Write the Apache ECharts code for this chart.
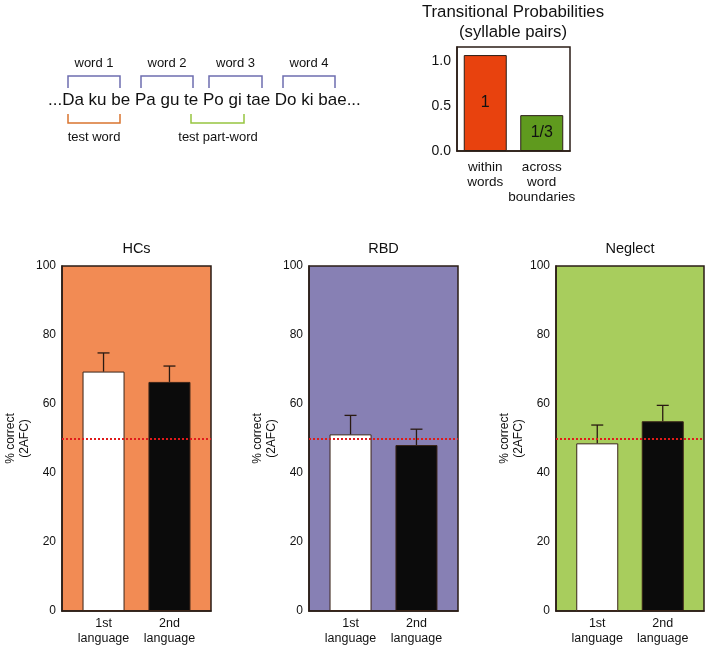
<!DOCTYPE html>
<html>
<head>
<meta charset="utf-8">
<script src="https://cdn.jsdelivr.net/npm/echarts@6/dist/echarts.min.js"></script>
<style>html,body{margin:0;padding:0;background:#fff}#c{width:708px;height:647px}</style>
</head>
<body>
<div id="c"></div>
<script>
// ---- Transitional probabilities inset ----
const tpCategories = ['within\nwords', 'across\nword\nboundaries'];
const tpValues = [1.07, 0.40];
const tpLabels = ['1', '1/3'];
const tpTicks = [0, 0.5, 1.0];

// ---- Main panels ----
const panelNames = ['HCs', 'RBD', 'Neglect'];
const langPositions = [1, 2];
const langLabels = ['1st\nlanguage', '2nd\nlanguage'];
const hcsMeans = [69.4, 66.4];
const hcsUpper = [74.8, 71.0];
const rbdMeans = [51.2, 48.1];
const rbdUpper = [56.7, 52.7];
const negMeans = [48.6, 55.0];
const negUpper = [53.9, 59.6];
const chanceLevel = 50;
const yTicksMax = 100;

const FONT = '"Liberation Sans", Arial, Helvetica, sans-serif';
const panelBg = ['#F28B54', '#8780B4', '#A8CD5D'];
const barColors = ['#FFFFFF', '#0B0B0B'];
const tpColors = ['#E8420E', '#5F9A1E'];
const frame = '#2a1d16';

const panelMeans = [hcsMeans, rbdMeans, negMeans];
const panelUpper = [hcsUpper, rbdUpper, negUpper];
const panelGrids = [
  {left: 62, top: 266, width: 149, height: 345},
  {left: 309, top: 266, width: 149, height: 345},
  {left: 556, top: 266, width: 148, height: 345}
];

const chart = echarts.init(document.getElementById('c'), null, {renderer: 'canvas'});

const grids = [{left: 457, top: 47, width: 113, height: 104, show: true, backgroundColor: '#fff', borderColor: frame, borderWidth: 1.5}];
const xAxes = [{
  gridIndex: 0, type: 'category', data: tpCategories,
  axisLine: {show: true, lineStyle: {color: frame, width: 1.5}},
  axisTick: {show: false},
  axisLabel: {fontFamily: FONT, fontSize: 13.5, color: '#111', lineHeight: 15, margin: 9, interval: 0}
}];
const yAxes = [{
  gridIndex: 0, type: 'value', min: 0, max: 1.16,
  axisLine: {show: true, lineStyle: {color: frame, width: 1.5}},
  axisTick: {show: false}, splitLine: {show: false},
  axisLabel: {customValues: tpTicks, formatter: v => v.toFixed(1), fontFamily: FONT, fontSize: 14, color: '#111', margin: 6}
}];
const series = [{
  type: 'bar', xAxisIndex: 0, yAxisIndex: 0, barWidth: 43,
  data: tpValues.map((v, i) => ({value: v, itemStyle: {color: tpColors[i], borderColor: frame, borderWidth: 1}})),
  label: {show: true, position: 'inside', formatter: p => tpLabels[p.dataIndex], fontFamily: FONT, fontSize: 16, color: '#111'}
}];

const graphic = [];

panelNames.forEach((name, k) => {
  const g = panelGrids[k];
  grids.push(Object.assign({show: true, backgroundColor: panelBg[k], borderColor: frame, borderWidth: 1.5}, g));
  const gi = k + 1;
  xAxes.push({
    gridIndex: gi, type: 'value', min: 0.37, max: 2.63,
    axisLine: {show: true, onZero: false, lineStyle: {color: frame, width: 1.5}},
    axisTick: {show: false}, splitLine: {show: false},
    axisLabel: {customValues: langPositions, formatter: v => langLabels[langPositions.indexOf(v)] || '',
      fontFamily: FONT, fontSize: 12.5, color: '#111', lineHeight: 15, margin: 5}
  });
  yAxes.push({
    gridIndex: gi, type: 'value', min: 0, max: yTicksMax, interval: 20,
    name: '% correct\n(2AFC)', nameLocation: 'middle', nameRotate: 90, nameGap: 27,
    nameTextStyle: {fontFamily: FONT, fontSize: 12, color: '#111', lineHeight: 14},
    axisLine: {show: true, lineStyle: {color: frame, width: 1.5}},
    axisTick: {show: false}, splitLine: {show: false},
    axisLabel: {fontFamily: FONT, fontSize: 12, color: '#111', margin: 6}
  });
  series.push({
    type: 'bar', xAxisIndex: gi, yAxisIndex: gi, barWidth: 42,
    data: langPositions.map((x, i) => ({value: [x, panelMeans[k][i]], itemStyle: {color: barColors[i], borderColor: '#3a2418', borderWidth: 1}})),
    markLine: {
      silent: true, symbol: 'none', label: {show: false},
      lineStyle: {color: '#E01B1B', type: [2, 2], width: 2},
      data: [{yAxis: chanceLevel}]
    }
  });
  series.push({
    type: 'custom', xAxisIndex: gi, yAxisIndex: gi, z: 3,
    data: langPositions.map((x, i) => [x, panelMeans[k][i], panelUpper[k][i]]),
    encode: {x: 0, y: [1, 2]},
    renderItem: (params, api) => {
      const x = api.value(0);
      const p0 = api.coord([x, api.value(1)]);
      const p1 = api.coord([x, api.value(2)]);
      const st = {stroke: '#2a1a12', lineWidth: 1.3};
      return {type: 'group', children: [
        {type: 'line', shape: {x1: p0[0], y1: p0[1], x2: p1[0], y2: p1[1]}, style: st},
        {type: 'line', shape: {x1: p1[0] - 6, y1: p1[1], x2: p1[0] + 6, y2: p1[1]}, style: st}
      ]};
    }
  });
  graphic.push({type: 'text', x: g.left + g.width / 2, y: 241, style: {text: name, font: '14.5px ' + FONT, fill: '#111', textAlign: 'center'}});
});

// inset title
graphic.push({type: 'text', x: 513, y: 2, style: {text: 'Transitional Probabilities\n(syllable pairs)', font: '16.8px ' + FONT, fill: '#111', textAlign: 'center', lineHeight: 20}});

// schematic of syllable stream
const purple = '#6E6DB0';
const wordBrackets = [[68, 120], [141, 193], [209, 262], [283, 335]];
const wordNames = ['word 1', 'word 2', 'word 3', 'word 4'];
wordBrackets.forEach((b, i) => {
  graphic.push({type: 'polyline', shape: {points: [[b[0], 88], [b[0], 76], [b[1], 76], [b[1], 88]]}, style: {stroke: purple, lineWidth: 1.5, fill: null}});
  graphic.push({type: 'text', x: (b[0] + b[1]) / 2, y: 57, style: {text: wordNames[i], font: '13px ' + FONT, fill: '#111', textAlign: 'center'}});
});
graphic.push({type: 'text', x: 48, y: 92, style: {text: '...Da ku be Pa gu te Po gi tae Do ki bae...', font: '17px ' + FONT, fill: '#111'}});
graphic.push({type: 'polyline', shape: {points: [[68, 114], [68, 123], [120, 123], [120, 114]]}, style: {stroke: '#D9742F', lineWidth: 1.5, fill: null}});
graphic.push({type: 'text', x: 94, y: 131, style: {text: 'test word', font: '13px ' + FONT, fill: '#111', textAlign: 'center'}});
graphic.push({type: 'polyline', shape: {points: [[191, 114], [191, 123], [244, 123], [244, 114]]}, style: {stroke: '#97C540', lineWidth: 1.5, fill: null}});
graphic.push({type: 'text', x: 218, y: 131, style: {text: 'test part-word', font: '13px ' + FONT, fill: '#111', textAlign: 'center'}});

chart.setOption({
  animation: false,
  backgroundColor: '#fff',
  grid: grids, xAxis: xAxes, yAxis: yAxes, series: series, graphic: graphic
});
</script>
</body>
</html>
